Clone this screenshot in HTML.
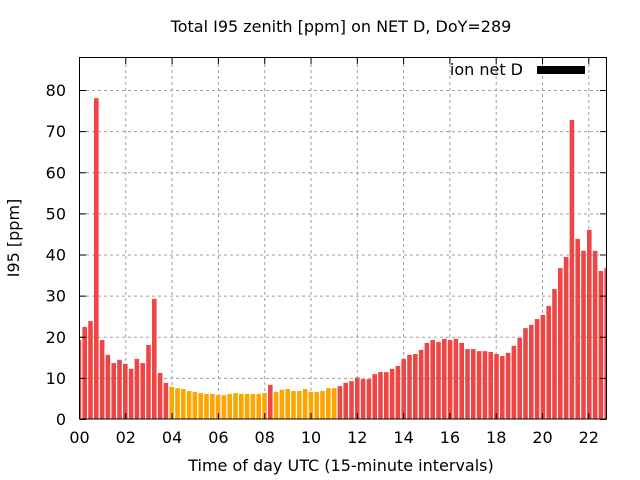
<!DOCTYPE html>
<html><head><style>body{margin:0;background:#fff}svg{display:block;font-family:"DejaVu Sans","Liberation Sans",sans-serif}</style></head>
<body>
<svg id="s" width="640" height="480" xmlns="http://www.w3.org/2000/svg">
<rect width="640" height="480" fill="#fff"/>
<g id="grid" stroke="#a0a0a0" stroke-width="1" stroke-dasharray="3,3"></g>
<g id="bars"></g>
<rect x="79.5" y="57.5" width="527" height="361.5" fill="none" stroke="#000" stroke-width="1"/>
<g id="ticks" stroke="#000"></g>
<g font-size="16" fill="#000" id="lbl">
<text x="341" y="32" text-anchor="middle" font-size="16">Total I95 zenith [ppm] on NET D, DoY=289</text>
<text x="341" y="471" text-anchor="middle">Time of day UTC (15-minute intervals)</text>
<text transform="translate(19,238) rotate(-90)" text-anchor="middle">I95 [ppm]</text>
<text x="523" y="75" text-anchor="end">ion net D</text>
</g>
<rect x="537" y="66" width="48" height="8" fill="#000"/>
</svg>
<script>
var v=[19.2,22.4,23.8,78,19.2,15.6,13.6,14.4,13.4,12.2,14.6,13.6,18,29.2,11.2,8.8,7.8,7.5,7.3,6.8,6.6,6.3,6.1,6.1,5.8,5.8,6.1,6.3,6.1,6.1,6.1,6.1,6.3,8.3,6.6,7.1,7.3,6.8,6.8,7.3,6.6,6.6,6.8,7.5,7.5,8.0,8.8,9.2,10.1,9.7,9.7,10.9,11.4,11.4,12.2,12.9,14.6,15.6,15.8,16.8,18.5,19.2,18.7,19.5,19.2,19.5,18.5,17,17,16.5,16.5,16.3,15.8,15.3,16.1,17.8,19.7,22.1,22.9,24.3,25.3,27.5,31.6,36.7,39.4,72.7,43.8,40.9,46,40.9,36,36.7];
var ns="http://www.w3.org/2000/svg",b=document.getElementById('bars'),g=document.getElementById('grid'),t=document.getElementById('ticks'),l=document.getElementById('lbl');
function el(p,tag,a,txt){var e=document.createElementNS(ns,tag);for(var k in a)e.setAttribute(k,a[k]);if(txt!=null)e.textContent=txt;p.appendChild(e);return e;}
var Y=function(u){return 419-u*4.1125},X=function(h){return 79.5+h*23.15};
for(var u=10;u<=80;u+=10){el(g,'line',{x1:80,x2:606,y1:Y(u)+.5,y2:Y(u)+.5});}
for(var h=2;h<=22;h+=2){el(g,'line',{x1:X(h),x2:X(h),y1:58,y2:419});}
v.forEach(function(x,i){var c=78.9+i*5.8,x0=Math.max(80,c-2.3),x1=Math.min(606,c+2.3);
if(x1<=x0)return;
var col=(i>=16&&i<=44&&i!=33)?'#ffa500':'#f04545';
el(b,'rect',{x:x0,y:Y(x),width:x1-x0,height:419-Y(x),fill:col});});
for(var u=0;u<=80;u+=10){var y=Y(u)+.5;el(t,'line',{x1:80,x2:86,y1:y,y2:y});el(t,'line',{x1:600,x2:606,y1:y,y2:y});
el(l,'text',{x:66,y:Y(u)+6,'text-anchor':'end'},String(u));}
for(var h=0;h<=22;h+=2){var x=X(h);el(t,'line',{x1:x,x2:x,y1:413,y2:419});el(t,'line',{x1:x,x2:x,y1:58,y2:64});
el(l,'text',{x:x,y:443,'text-anchor':'middle'},(h<10?'0':'')+h);}
</script>
</body></html>
